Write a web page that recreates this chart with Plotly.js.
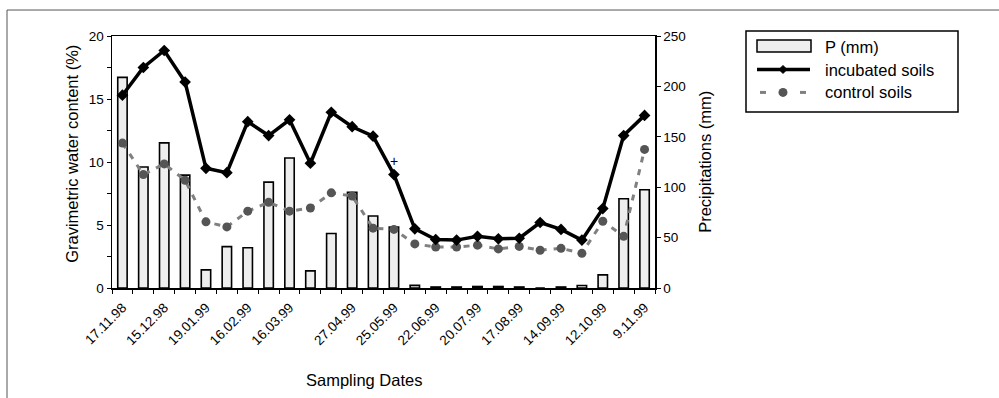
<!DOCTYPE html>
<html>
<head>
<meta charset="utf-8">
<script src="https://cdn.plot.ly/plotly-3.0.1.min.js"></script>
<style>
  html, body { margin: 0; padding: 0; background: #fff; }
  #chart { width: 999px; height: 398px; }
</style>
</head>
<body>
<div id="chart"></div>
<script>
// Sampling dates (only every other date is labelled on the axis)
const sampleDates = ['17.11.98', '', '15.12.98', '', '19.01.99', '', '16.02.99', '', '16.03.99', '', '',
  '27.04.99', '', '25.05.99', '', '22.06.99', '', '20.07.99', '', '17.08.99', '', '14.09.99', '',
  '12.10.99', '', '9.11.99'];

// Precipitation between samplings, mm (right axis)
const precipMm = [209, 120, 144, 112, 18, 41, 40, 105, 129, 17, 54, 95, 71.5, 60.5, 2.6, 1, 1, 1.5,
  1.5, 1, 0, 1, 2.5, 13, 88.5, 97.5];

// Gravimetric water content, % (left axis)
const incubatedSoils = [15.3, 17.5, 18.85, 16.35, 9.5, 9.15, 13.2, 12.1, 13.35, 9.9, 13.95, 12.8,
  12.05, 9.0, 4.7, 3.85, 3.8, 4.1, 3.9, 3.95, 5.2, 4.65, 3.8, 6.3, 12.1, 13.7];
const controlSoils = [11.5, 9.0, 9.85, 8.55, 5.25, 4.85, 6.1, 6.8, 6.1, 6.35, 7.55, 7.3, 4.75, 4.65,
  3.5, 3.25, 3.25, 3.4, 3.1, 3.3, 3.0, 3.15, 2.75, 5.3, 4.1, 11.0];

// Marked sample (drawn with a "+" above the point)
const flaggedIndex = 13;
const flaggedY = 10.05;

// Axis ticks
const waterTicks = [0, 2.5, 5, 7.5, 10, 12.5, 15, 17.5, 20];
const waterTickText = ['0', '', '5', '', '10', '', '15', '', '20'];
const precipTicks = [0, 50, 100, 150, 200, 250];

const idx = sampleDates.map((_, i) => i);
const labelIdx = idx.filter(i => sampleDates[i] !== '');
const boundaries = idx.map(i => i - 0.5).concat([idx.length - 0.5]);

const FONT = 'Liberation Sans, Arial, sans-serif';

// plot-area geometry in pixels
const L = 112, R = 655, T = 36, B = 288.3;
const px = x => (x - L) / (R - L);
const py = y => (B - y) / (B - T);

const traces = [
  {
    type: 'bar', name: 'P (mm)', x: idx, y: precipMm, yaxis: 'y', width: 0.45,
    marker: { color: '#eeeeee', line: { color: '#000', width: 1.6 } },
    showlegend: false, hoverinfo: 'skip'
  },
  {
    type: 'scatter', mode: 'lines+markers', name: 'control soils', x: idx, y: controlSoils, yaxis: 'y2',
    line: { color: '#808080', width: 3, dash: '6px,7px' },
    marker: { symbol: 'circle', size: 9, color: '#555555' },
    showlegend: false, hoverinfo: 'skip'
  },
  {
    type: 'scatter', mode: 'lines+markers', name: 'incubated soils', x: idx, y: incubatedSoils, yaxis: 'y2',
    line: { color: '#000', width: 3.5 },
    marker: { symbol: 'diamond', size: 9, color: '#000' },
    showlegend: false, hoverinfo: 'skip'
  }
];

// Legend drawn as shapes + annotations
const legendShapes = [
  { type: 'rect', xref: 'paper', yref: 'paper', x0: px(746), x1: px(958), y0: py(112), y1: py(31),
    line: { color: '#000', width: 1.5 }, fillcolor: '#fff', layer: 'above' },
  { type: 'rect', xref: 'paper', yref: 'paper', x0: px(757), x1: px(811), y0: py(52), y1: py(40),
    line: { color: '#000', width: 1.5 }, fillcolor: '#eeeeee', layer: 'above' },
  { type: 'line', xref: 'paper', yref: 'paper', x0: px(757), x1: px(810), y0: py(69.5), y1: py(69.5),
    line: { color: '#000', width: 3.5 }, layer: 'above' },
  { type: 'path', xref: 'paper', yref: 'paper', layer: 'above', fillcolor: '#000', line: { color: '#000', width: 1 },
    path: `M ${px(783)} ${py(65.5)} L ${px(787)} ${py(69.5)} L ${px(783)} ${py(73.5)} L ${px(779)} ${py(69.5)} Z` },
  { type: 'line', xref: 'paper', yref: 'paper', x0: px(760), x1: px(766), y0: py(92.5), y1: py(92.5),
    line: { color: '#808080', width: 3 }, layer: 'above' },
  { type: 'line', xref: 'paper', yref: 'paper', x0: px(800), x1: px(806), y0: py(92.5), y1: py(92.5),
    line: { color: '#808080', width: 3 }, layer: 'above' },
  { type: 'circle', xref: 'paper', yref: 'paper', x0: px(778.5), x1: px(787.5), y0: py(97), y1: py(88),
    fillcolor: '#555555', line: { color: '#555555', width: 0 }, layer: 'above' }
];

// Chart-area frame (left and top edges visible)
const frame = { type: 'rect', xref: 'paper', yref: 'paper', x0: px(7), x1: px(1010), y0: py(410), y1: py(10),
  line: { color: '#555', width: 1 }, fillcolor: 'rgba(0,0,0,0)', layer: 'below' };

const textFont = { family: FONT, size: 16.5, color: '#000' };

const annotations = [
  { xref: 'paper', yref: 'paper', x: px(823), y: py(47), text: 'P (mm)', showarrow: false,
    xanchor: 'left', yanchor: 'middle', font: textFont },
  { xref: 'paper', yref: 'paper', x: px(823), y: py(70.5), text: 'incubated soils', showarrow: false,
    xanchor: 'left', yanchor: 'middle', font: textFont },
  { xref: 'paper', yref: 'paper', x: px(823), y: py(92), text: 'control soils', showarrow: false,
    xanchor: 'left', yanchor: 'middle', font: textFont },
  { xref: 'paper', yref: 'paper', x: px(364), y: py(380), text: 'Sampling Dates', showarrow: false,
    xanchor: 'center', yanchor: 'middle', font: textFont },
  { xref: 'paper', yref: 'paper', x: px(72), y: py(154), text: 'Gravimetric water content (%)', showarrow: false,
    textangle: -90, xanchor: 'center', yanchor: 'middle', font: textFont },
  { xref: 'paper', yref: 'paper', x: px(705), y: py(162), text: 'Precipitations (mm)', showarrow: false,
    textangle: -90, xanchor: 'center', yanchor: 'middle', font: textFont },
  { xref: 'x', yref: 'y2', x: flaggedIndex, y: flaggedY, text: '+', showarrow: false,
    xanchor: 'center', yanchor: 'middle', font: { family: FONT, size: 14, color: '#000' } }
];

const tickFont = { family: FONT, size: 13.5, color: '#000' };

const layout = {
  width: 999, height: 398,
  margin: { l: L, r: 999 - R, t: T, b: 398 - B, pad: 0 },
  paper_bgcolor: '#fff', plot_bgcolor: '#fff',
  showlegend: false,
  bargap: 0,
  xaxis: {
    range: [-0.5, idx.length - 0.5], fixedrange: true,
    showgrid: false, zeroline: false,
    showline: true, linecolor: '#000', linewidth: 1.5, mirror: true,
    tickmode: 'array', tickvals: labelIdx, ticktext: labelIdx.map(i => sampleDates[i]),
    ticks: 'outside', ticklen: 5, tickcolor: 'rgba(0,0,0,0)', tickangle: -45,
    tickfont: tickFont,
    minor: { tickmode: 'array', tickvals: boundaries, ticks: 'outside', ticklen: 4, tickcolor: '#000', tickwidth: 1, showgrid: false }
  },
  yaxis: {
    side: 'right', range: [0, 250], fixedrange: true,
    showgrid: false, zeroline: false,
    showline: true, linecolor: '#000', linewidth: 1.5,
    tickmode: 'array', tickvals: precipTicks,
    ticks: 'outside', ticklen: 4, tickcolor: '#000', tickwidth: 1,
    tickfont: tickFont
  },
  yaxis2: {
    overlaying: 'y', side: 'left', range: [0, 20], fixedrange: true,
    showgrid: false, zeroline: false,
    showline: true, linecolor: '#000', linewidth: 1.5,
    tickmode: 'array', tickvals: waterTicks, ticktext: waterTickText,
    ticks: 'outside', ticklen: 4, tickcolor: '#000', tickwidth: 1,
    tickfont: tickFont
  },
  shapes: [frame].concat(legendShapes),
  annotations: annotations
};

Plotly.newPlot('chart', traces, layout, { displayModeBar: false, staticPlot: true });
</script>
</body>
</html>
